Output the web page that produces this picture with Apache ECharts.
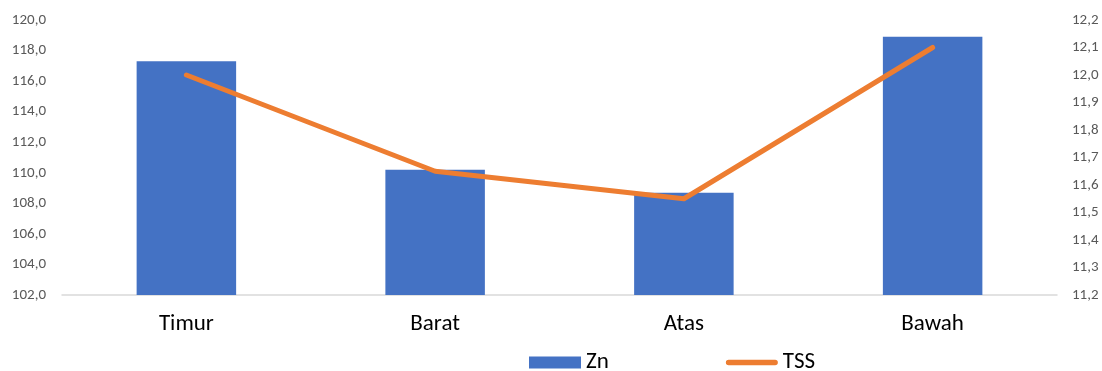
<!DOCTYPE html>
<html><head><meta charset="utf-8">
<script src="https://cdn.jsdelivr.net/npm/echarts@6/dist/echarts.min.js"></script>
<style>html,body{margin:0;padding:0;background:#fff}#c{width:1102px;height:371px}</style>
</head><body><div id="c"></div>
<script>
const categories = ['Timur', 'Barat', 'Atas', 'Bawah'];
const znValues = [117.3, 110.2, 108.7, 118.9];
const tssValues = [12.0, 11.65, 11.55, 12.1];
const leftAxis = {min: 102, max: 120, interval: 2};
const rightAxis = {min: 11.2, max: 12.2, interval: 0.1};

const fmt = v => v.toFixed(1).replace('.', ',');
const font = "Carlito, 'Open Sans', 'Liberation Sans', sans-serif";
const chart = echarts.init(document.getElementById('c'));
chart.setOption({
  animation: false,
  grid: {left: 62, right: 45, top: 20, bottom: 76, containLabel: false},
  legend: {
    top: 351, left: 529, padding: 0, itemGap: 117, itemWidth: 52, itemHeight: 12,
    textStyle: {fontFamily: font, fontSize: 23, color: '#000'},
    data: [
      {name: 'Zn', icon: 'rect'},
      {name: 'TSS', icon: 'path://M3,0H53A3,3 0 0 1 53,6H3A3,3 0 0 1 3,0Z'}
    ]
  },
  xAxis: {
    type: 'category', data: categories,
    axisLine: {lineStyle: {color: '#d9d9d9', width: 1.5}},
    axisTick: {show: false},
    axisLabel: {fontFamily: font, fontSize: 23, color: '#000', margin: 18}
  },
  yAxis: [
    {type: 'value', min: leftAxis.min, max: leftAxis.max, interval: leftAxis.interval,
     splitLine: {show: false}, axisLine: {show: false}, axisTick: {show: false},
     axisLabel: {fontFamily: font, fontSize: 15, color: '#595959', margin: 16, formatter: fmt}},
    {type: 'value', min: rightAxis.min, max: rightAxis.max, interval: rightAxis.interval,
     splitLine: {show: false}, axisLine: {show: false}, axisTick: {show: false},
     axisLabel: {fontFamily: font, fontSize: 15, color: '#595959', margin: 15, formatter: fmt}}
  ],
  series: [
    {name: 'Zn', type: 'bar', data: znValues, barWidth: '40%', yAxisIndex: 0,
     itemStyle: {color: '#4472C4'}},
    {name: 'TSS', type: 'line', data: tssValues, yAxisIndex: 1, symbol: 'none',
     lineStyle: {color: '#ED7D31', width: 5, cap: 'round', join: 'round'},
     itemStyle: {color: '#ED7D31'}}
  ]
});
</script></body></html>
